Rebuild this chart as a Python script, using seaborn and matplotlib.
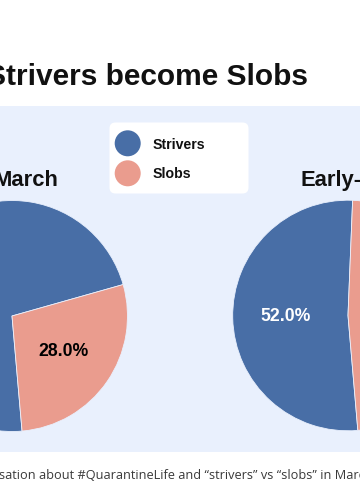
import matplotlib
matplotlib.use("Agg")
import matplotlib.pyplot as plt
from matplotlib.patches import Rectangle, FancyBboxPatch, Circle
import seaborn as sns

# ---- data ----
categories = ["Strivers", "Slobs"]
march_values = [72, 28]
early_values = [52, 48]
panel_titles = ["March", "Early-"]
title_text = "Strivers become Slobs"
caption_text = "sation about #QuarantineLife and \u201cstrivers\u201d vs \u201cslobs\u201d in March"

sns.set_style("white")
plt.rcParams['font.family'] = ['Liberation Sans', 'DejaVu Sans']

colors = sns.color_palette(["#486ea6", "#ea9c8e"])
label_colors = ["white", "black"]
panel_bg = "#e9f0fd"

W, H = 360, 500
fig = plt.figure(figsize=(W / 100, H / 100), dpi=100)
fig.patch.set_facecolor("white")

# background/pixel-space axes
bg = fig.add_axes([0, 0, 1, 1], zorder=0)
bg.set_xlim(0, W)
bg.set_ylim(H, 0)
bg.axis("off")
bg.add_patch(Rectangle((0, 105.7), W, 452 - 105.7, facecolor=panel_bg, edgecolor="none"))

# title
bg.text(308, 85, title_text, ha="right", va="baseline", fontsize=21.5,
        fontweight="bold", color="#111111")

# legend
bg.add_patch(FancyBboxPatch((109.5 + 6, 122.5 + 6), 139 - 12, 71 - 12,
                            boxstyle="round,pad=6", facecolor="white", edgecolor="none"))
legend_y = [143.3, 173.3]
legend_base = [149, 178.5]
for cat, col, cy, by in zip(categories, colors, legend_y, legend_base):
    bg.add_patch(Circle((127.7, cy), 13, facecolor=col, edgecolor="none"))
    bg.text(152.7, by, cat, ha="left", va="baseline", fontsize=10.2,
            fontweight="bold", color="#111111")

# pie subtitles
bg.text(58.3, 185.7, panel_titles[0], ha="right", va="baseline", fontsize=15.8,
        fontweight="bold", color="#111111")
bg.text(300, 185.7, panel_titles[1], ha="left", va="baseline", fontsize=15.8,
        fontweight="bold", color="#111111")

# caption
bg.text(-1, 479, caption_text, ha="left", va="baseline", fontsize=9.2,
        family=["Open Sans", "DejaVu Sans"], color="#3a3a3a")


def draw_pie(cx, cy, r, values, startangle):
    ax = fig.add_axes([(cx - r) / W, 1 - (cy + r) / H, 2 * r / W, 2 * r / H], zorder=1)
    wedges, texts, autotexts = ax.pie(
        values, colors=colors, startangle=startangle, counterclock=True,
        autopct="%.1f%%", pctdistance=0.54, radius=1,
        wedgeprops=dict(edgecolor=panel_bg, linewidth=0.6),
        textprops=dict(fontsize=12.7, fontweight="bold"))
    for t, c in zip(autotexts, label_colors):
        t.set_color(c)
    ax.set_xlim(-1, 1)
    ax.set_ylim(-1, 1)
    ax.axis("off")
    ax.patch.set_alpha(0)
    return ax


draw_pie(12, 316, 115.5, march_values, 15.8)
draw_pie(348, 315.5, 115.3, early_values, 87.7)

fig.savefig("out.png", dpi=100, facecolor=fig.get_facecolor())
